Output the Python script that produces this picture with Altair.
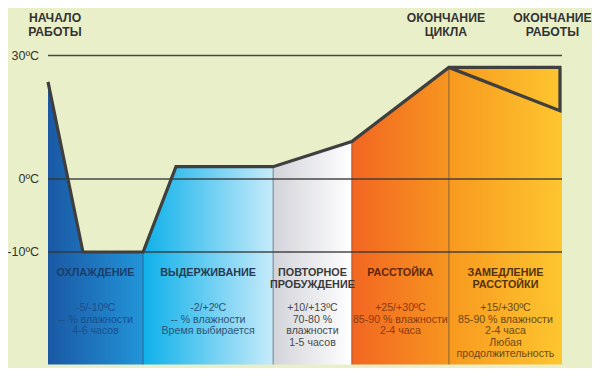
import altair as alt
import pandas as pd
import numpy as np

# ---- data (schematic time axis 0..100, temperature in °C) ----
profile_x = [0, 6.8, 18.5, 24.9, 43.8, 59.1, 78.0, 99.6, 99.6, 78.0]
profile_t = [23.6, -10, -10, 3.0, 3.0, 9.1, 27.1, 16.6, 27.1, 27.1]

phase_edges = [0, 18.5, 43.8, 59.1, 78.0, 100]
phase_titles = ["ОХЛАЖДЕНИЕ", "ВЫДЕРЖИВАНИЕ", "ПОВТОРНОЕ\nПРОБУЖДЕНИЕ",
                "РАССТОЙКА", "ЗАМЕДЛЕНИЕ\nРАССТОЙКИ"]
phase_notes = [
    "-5/-10ºC\n-- % влажности\n4-6 часов",
    "-2/+2ºC\n-- % влажности\nВремя выбирается",
    "+10/+13ºC\n70-80 %\nвлажности\n1-5 часов",
    "+25/+30ºC\n85-90 % влажности\n2-4 часа",
    "+15/+30ºC\n85-90 % влажности\n2-4 часа\nЛюбая\nпродолжительность",
]
temp_ticks = [30, 0, -10]
tick_labels = ["30ºC", "0ºC", "-10ºC"]
event_x = [0, 78.0, 99.6]
event_text = ["НАЧАЛО\nРАБОТЫ", "ОКОНЧАНИЕ\nЦИКЛА", "ОКОНЧАНИЕ\nРАБОТЫ"]
panel_bottom = -25

# ---- styles ----
grad_colors = [("#1a58a4", "#2295d8"), ("#0eb0ea", "#c6ebfa"), ("#d3d4db", "#ffffff"),
               ("#f26622", "#f7951f"), ("#f8991f", "#fdc62f")]
title_colors = ["#1d3d6a", "#263a52", "#3a3a3a", "#5e260b", "#55320f"]
note_colors = ["#1b4e8c", "#2d5376", "#4a4a4a", "#8a3a12", "#6c4818"]
event_dx = [7, -3, -7.5]
FONT = "Liberation Sans"
BG = "#e9f0c9"
LINE = "#3f3f3f"

xs = alt.Scale(domain=[0, 100], range=[0, 514], nice=False, zero=False)
ys = alt.Scale(domain=[panel_bottom, -10, 0, 30], range=[356.5, 244, 171, 47.5],
               nice=False, zero=False)

# upper envelope of the filled region
up_x = profile_x[:7] + [phase_edges[-1]]
up_t = profile_t[:7] + [max(profile_t)]

layers = []
for i in range(5):
    a, b = phase_edges[i], phase_edges[i + 1]
    xs_pts = [a] + [x for x in up_x if a < x < b] + [b]
    ts_pts = [float(np.interp(x, up_x, up_t)) for x in xs_pts]
    df = pd.DataFrame({"x": xs_pts, "t": ts_pts})
    grad = alt.Gradient(
        gradient="linear",
        stops=[alt.GradientStop(color=grad_colors[i][0], offset=0),
               alt.GradientStop(color=grad_colors[i][1], offset=1)],
        x1=0, x2=1, y1=0, y2=0)
    layers.append(
        alt.Chart(df).mark_area(color=grad, line=False).encode(
            x=alt.X("x:Q", scale=xs, axis=None),
            y=alt.Y("t:Q", scale=ys, axis=None),
            y2=alt.datum(panel_bottom),
        )
    )

# vertical boundaries between phases
bx = phase_edges[1:-1]
bdf = pd.DataFrame({"x": bx, "t": [float(np.interp(x, up_x, up_t)) for x in bx]})
layers.append(
    alt.Chart(bdf).mark_rule(color="#333333", strokeWidth=1, opacity=0.55).encode(
        x=alt.X("x:Q", scale=xs, axis=None),
        y=alt.Y("t:Q", scale=ys, axis=None),
        y2=alt.datum(panel_bottom),
    )
)

# horizontal temperature lines
hdf = pd.DataFrame({"t": temp_ticks, "lab": tick_labels,
                    "x0": phase_edges[0], "x1": phase_edges[-1]})
layers.append(
    alt.Chart(hdf).mark_rule(color="#353535", strokeWidth=1.4, opacity=0.9).encode(
        x=alt.X("x0:Q", scale=xs, axis=None),
        x2="x1:Q",
        y=alt.Y("t:Q", scale=ys, axis=None),
    )
)
# temperature labels
layers.append(
    alt.Chart(hdf).mark_text(align="right", baseline="middle", dx=-9, fontSize=12.5,
                             font=FONT, color="#333333").encode(
        x=alt.X("x0:Q", scale=xs, axis=None),
        y=alt.Y("t:Q", scale=ys, axis=None),
        text="lab:N",
    )
)

# temperature profile
pdf = pd.DataFrame({"x": profile_x, "t": profile_t, "o": range(len(profile_x))})
layers.append(
    alt.Chart(pdf).mark_line(color=LINE, strokeWidth=3.2, strokeJoin="miter").encode(
        x=alt.X("x:Q", scale=xs, axis=None),
        y=alt.Y("t:Q", scale=ys, axis=None),
        order="o:Q",
    )
)

# phase texts
cx = [(phase_edges[i] + phase_edges[i + 1]) / 2 for i in range(5)]
tdf = pd.DataFrame({"cx": cx, "title": phase_titles, "note": phase_notes,
                    "tc": title_colors, "nc": note_colors})
layers.append(
    alt.Chart(tdf).mark_text(align="center", baseline="top", dy=15, fontSize=10.8,
                             fontWeight="bold", font=FONT, lineBreak="\n",
                             lineHeight=12).encode(
        x=alt.X("cx:Q", scale=xs, axis=None),
        y=alt.datum(-10),
        text="title:N",
        color=alt.Color("tc:N", scale=None),
    )
)
layers.append(
    alt.Chart(tdf).mark_text(align="center", baseline="top", dy=51, fontSize=10.6,
                             font=FONT, lineBreak="\n", lineHeight=11.6).encode(
        x=alt.X("cx:Q", scale=xs, axis=None),
        y=alt.datum(-10),
        text="note:N",
        color=alt.Color("nc:N", scale=None),
    )
)

# event labels at the top
for i in range(3):
    edf = pd.DataFrame({"x": [event_x[i]], "txt": [event_text[i]]})
    layers.append(
        alt.Chart(edf).mark_text(align="center", baseline="top", dx=event_dx[i], dy=-43.5,
                                 fontSize=12.2, fontWeight="bold", font=FONT,
                                 lineBreak="\n", lineHeight=14, color="#333333").encode(
            x=alt.X("x:Q", scale=xs, axis=None),
            y=alt.datum(30),
            text="txt:N",
        )
    )

chart = alt.layer(*layers).properties(
    width=514, height=360,
    autosize=alt.AutoSizeParams(type="none"),
    padding={"left": 40, "top": 0, "right": 30, "bottom": 0},
    background=BG,
).configure_view(stroke=None)

chart.save("out.html", embed_options={"renderer": "svg", "actions": False})
